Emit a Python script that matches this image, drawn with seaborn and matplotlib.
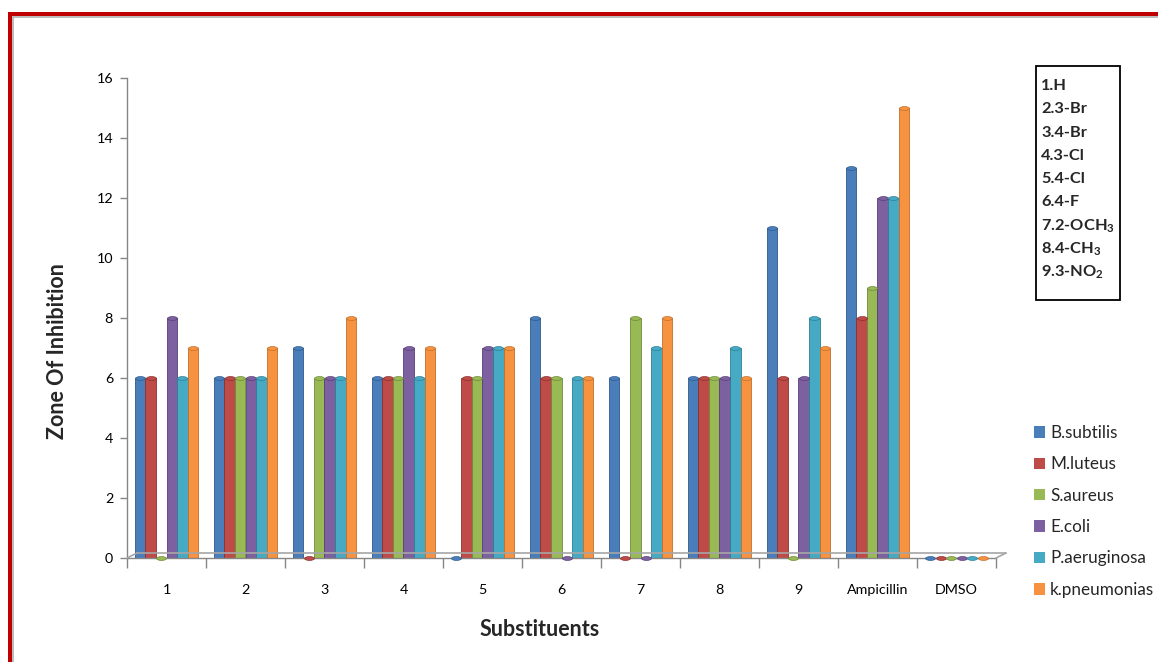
import numpy as np
import pandas as pd
import matplotlib
matplotlib.use("Agg")
import matplotlib.pyplot as plt
import matplotlib.transforms as mtransforms
from matplotlib.patches import Rectangle
from matplotlib.lines import Line2D
from matplotlib.path import Path
import seaborn as sns

# ---- data -------------------------------------------------------------
categories = ["1", "2", "3", "4", "5", "6", "7", "8", "9", "Ampicillin", "DMSO"]
organisms = ["B.subtilis", "M.luteus", "S.aureus", "E.coli", "P.aeruginosa", "k.pneumonias"]

b_subtilis   = [6, 6, 7, 6, 0, 8, 6, 6, 11, 13, 0]
m_luteus     = [6, 6, 0, 6, 6, 6, 0, 6, 6, 8, 0]
s_aureus     = [0, 6, 6, 6, 6, 6, 8, 6, 0, 9, 0]
e_coli       = [8, 6, 6, 7, 7, 0, 0, 6, 6, 12, 0]
p_aeruginosa = [6, 6, 6, 6, 7, 6, 7, 7, 8, 12, 0]
k_pneumonias = [7, 7, 8, 7, 7, 6, 8, 6, 7, 15, 0]

substituent_labels = ["1.H", "2.3-Br", "3.4-Br", "4.3-Cl", "5.4-Cl", "6.4-F",
                      r"7.2-OCH$_\mathbf{3}$", r"8.4-CH$_\mathbf{3}$", r"9.3-NO$_\mathbf{2}$"]

yticks = [0, 2, 4, 6, 8, 10, 12, 14, 16]

colors = ["#4A7EBB", "#BE4B48", "#98B954", "#7D60A0", "#46AAC5", "#F69240"]
edge_colors = ["#2E5A8C", "#8C2F2C", "#6E8A3A", "#573F78", "#2D7F96", "#C0702A"]

series = [b_subtilis, m_luteus, s_aureus, e_coli, p_aeruginosa, k_pneumonias]
df = pd.DataFrame({
    "Substituent": np.repeat([categories], len(organisms), axis=0).ravel(),
    "Organism": np.repeat(organisms, len(categories)),
    "Zone": np.concatenate(series),
})

# ---- figure -----------------------------------------------------------
sns.set_theme(style="white")
plt.rcParams["font.family"] = ["Lato", "DejaVu Sans"]
plt.rcParams["mathtext.fontset"] = "custom"
plt.rcParams["mathtext.rm"] = "Lato"
plt.rcParams["mathtext.bf"] = "Lato:bold"

W, H = 1158, 662
fig = plt.figure(figsize=(W / 100, H / 100), dpi=100)
fig.patch.set_facecolor("white")

ax = fig.add_axes([127 / W, 1 - 558 / H, (996 - 127) / W, (558 - 78) / H])

sns.barplot(data=df, x="Substituent", y="Zone", hue="Organism",
            order=categories, hue_order=organisms, palette=colors,
            width=0.8, gap=0.0, ax=ax, legend=False, errorbar=None,
            saturation=1)

# darker outline per series, and an elliptical cap on each bar top
cap_path = Path.unit_circle().transformed(mtransforms.Affine2D().scale(1.0, 0.38))
n_cat = len(categories)
for i, cont in enumerate(ax.containers):
    xs, ys = [], []
    for bar in cont:
        bar.set_edgecolor(edge_colors[i])
        bar.set_linewidth(0.6)
        xs.append(bar.get_x() + bar.get_width() / 2)
        ys.append(bar.get_height())
    sc = ax.scatter(xs, ys, s=13, color=colors[i], edgecolor=edge_colors[i],
                    linewidth=0.5, zorder=3, clip_on=False)
    sc.set_paths([cap_path])

ax.set_xlim(-0.5, n_cat - 0.5)
ax.set_ylim(0, 16)
ax.set_yticks(yticks)
ax.set_yticklabels([str(v) for v in yticks], fontsize=10.3, color="#000000")
ax.set_xticks(range(n_cat))
ax.set_xticklabels(categories, fontsize=10.3, color="#000000")
ax.set_xticks(np.arange(-0.5, n_cat, 1.0), minor=True)
ax.tick_params(axis="x", which="major", length=0, pad=19)
ax.tick_params(axis="x", which="minor", length=7, width=1, color="#868686",
               direction="out")
ax.tick_params(axis="y", which="major", length=5, width=1, color="#868686",
               direction="out", pad=5)
ax.xaxis.set_tick_params(bottom=True, which="both")
ax.yaxis.set_tick_params(left=True)
ax.set_xlabel("")
ax.set_ylabel("")

for side in ["top", "right"]:
    ax.spines[side].set_visible(False)
for side in ["left", "bottom"]:
    ax.spines[side].set_color("#868686")
    ax.spines[side].set_linewidth(1)

# 3-D style floor: back edge offset up-right from the base line
off = mtransforms.ScaledTranslation(10 / 100, 5 / 100, fig.dpi_scale_trans)
floor_tr = ax.transAxes + off
ax.add_line(Line2D([0, 1], [0, 0], transform=floor_tr, color="#A6A6A6",
                   lw=1.2, clip_on=False, zorder=1))
inv = fig.transFigure.inverted()
for xa in (0, 1):
    a = inv.transform(ax.transAxes.transform((xa, 0)))
    b = inv.transform(floor_tr.transform((xa, 0)))
    fig.add_artist(Line2D([a[0], b[0]], [a[1], b[1]], color="#A6A6A6", lw=1.2))

# axis titles
fig.text(540 / W, 1 - 629 / H, "Substituents", ha="center", va="center",
         fontsize=15.5, fontweight="bold")
fig.text(58 / W, 1 - 351 / H, "Zone Of Inhibition", ha="center", va="center",
         rotation=90, fontsize=15.5, fontweight="bold")

# series legend
handles = [Rectangle((0, 0), 1, 1, facecolor=c, edgecolor="none") for c in colors]
fig.legend(handles, organisms, loc="upper left",
           bbox_to_anchor=(1034 / W, 1 - 425 / H), frameon=False,
           fontsize=12.3, handlelength=0.65, handleheight=0.65,
           handletextpad=0.3, labelspacing=0.9, borderaxespad=0,
           borderpad=0)

# substituent key box
fig.add_artist(Rectangle((1036 / W, 1 - 300 / H), (1120 - 1036) / W,
                         (300 - 66) / H, transform=fig.transFigure,
                         facecolor="white", edgecolor="black", lw=1.3))
for k, lab in enumerate(substituent_labels):
    fig.text(1041 / W, 1 - (86 + k * 23.3) / H, lab, ha="left", va="center",
             fontsize=11.8, fontweight="bold")

# page frame
fig.add_artist(Rectangle((8 / W, 0), 4 / W, 1 - 12 / H, transform=fig.transFigure,
                         facecolor="#C00000", edgecolor="none"))
fig.add_artist(Rectangle((8 / W, 1 - 16 / H), 1 - 8 / W, 4 / H,
                         transform=fig.transFigure, facecolor="#C00000",
                         edgecolor="none"))
fig.add_artist(Line2D([12.5 / W, 12.5 / W], [0, 1 - 16.5 / H], color="#B0B0B0", lw=1.2))
fig.add_artist(Line2D([12.5 / W, 1], [1 - 17 / H, 1 - 17 / H], color="#B0B0B0", lw=1.2))

fig.savefig("out.png", dpi=100)
